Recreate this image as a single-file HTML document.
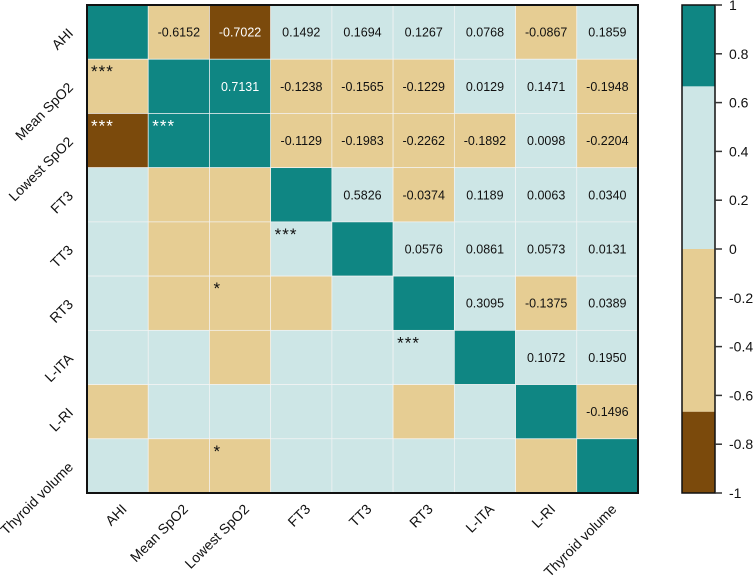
<!DOCTYPE html>
<html><head><meta charset="utf-8"><style>
html,body{margin:0;padding:0;background:#fff;}
svg{display:block;font-family:"Liberation Sans",Arial,sans-serif;}
</style></head><body>
<svg id="chart" width="753" height="578"></svg>
<script>
const labels=["AHI","Mean SpO2","Lowest SpO2","FT3","TT3","RT3","L-ITA","L-RI","Thyroid volume"];
const upperValues=[
[null,-0.6152,-0.7022,0.1492,0.1694,0.1267,0.0768,-0.0867,0.1859],
[null,null,0.7131,-0.1238,-0.1565,-0.1229,0.0129,0.1471,-0.1948],
[null,null,null,-0.1129,-0.1983,-0.2262,-0.1892,0.0098,-0.2204],
[null,null,null,null,0.5826,-0.0374,0.1189,0.0063,0.0340],
[null,null,null,null,null,0.0576,0.0861,0.0573,0.0131],
[null,null,null,null,null,null,0.3095,-0.1375,0.0389],
[null,null,null,null,null,null,null,0.1072,0.1950],
[null,null,null,null,null,null,null,null,-0.1496],
[null,null,null,null,null,null,null,null,null]];
const stars=[[1,0,"***"],[2,0,"***"],[2,1,"***"],[4,3,"***"],[5,2,"*"],[6,5,"***"],[8,2,"*"]];
const cbTicks=[1,0.8,0.6,0.4,0.2,0,-0.2,-0.4,-0.6,-0.8,-1];
const bands=[[-1,-2/3],[-2/3,0],[0,2/3],[2/3,1]];

const NS="http://www.w3.org/2000/svg";
const svg=document.getElementById("chart");
const L=87,T=5,R=638,B=493,n=labels.length;
const cw=(R-L)/n,ch=(B-T)/n;
const xPos=i=>L+i*cw, yPos=i=>T+i*ch;
function color(v){if(v>=2/3)return"#0f8683";if(v>=0)return"#cde6e6";if(v>=-2/3)return"#e6cd93";return"#7b4a0c";}
function dark(v){return v>=2/3||v< -2/3;}
function mk(tag,attrs,parent){const e=document.createElementNS(NS,tag);for(const k in attrs)e.setAttribute(k,attrs[k]);(parent||svg).appendChild(e);return e;}
function val(r,c){if(r===c)return 1;return r<c?upperValues[r][c]:upperValues[c][r];}
for(let r=0;r<n;r++)for(let c=0;c<n;c++){
 const v=val(r,c);
 const rect=mk("rect",{x:xPos(c),y:yPos(r),width:cw,height:ch,fill:color(v),stroke:"#f4f4f4","stroke-width":0.7});
 
 
 if(r<c){
  const t=mk("text",{x:xPos(c)+cw/2,y:yPos(r)+ch/2+4.5,"text-anchor":"middle","font-size":12.5,fill:dark(v)?"#fff":"#111"});
  t.textContent=v.toFixed(4);
  
  
 }
}
stars.forEach(s=>{
 const v=val(s[0],s[1]);
 const t=mk("text",{x:xPos(s[1])+4,y:yPos(s[0])+18,"font-size":17,"letter-spacing":"1",fill:dark(v)?"#fff":"#111"});
 t.textContent=s[2];
 
 
});
const border=mk("rect",{x:L,y:T,width:R-L,height:B-T,fill:"none",stroke:"#111","stroke-width":2});


labels.forEach((lb,i)=>{
 const cy=yPos(i)+ch/2, cx=xPos(i)+cw/2;
 const yx=74, yy=cy+2;
 const ty=mk("text",{x:yx,y:yy,"text-anchor":"end","font-size":14,fill:"#111",transform:`rotate(-45 ${yx} ${yy})`});
 ty.textContent=lb;
 
 
 const ax=cx+10, ay=510;
 const tx=mk("text",{x:ax,y:ay,"text-anchor":"end","font-size":14,fill:"#111",transform:`rotate(-45 ${ax} ${ay})`});
 tx.textContent=lb;
 
 
});
// colorbar
const CL=682,CR=715;
const cy=v=>T+(1-v)*(B-T)/2;
bands.forEach(b=>{
 const r=mk("rect",{x:CL,y:cy(b[1]),width:CR-CL,height:cy(b[0])-cy(b[1]),fill:color((b[0]+b[1])/2)});
 
 
});
const cbb=mk("rect",{x:CL,y:T,width:CR-CL,height:B-T,fill:"none",stroke:"#111","stroke-width":1.5});


cbTicks.forEach(v=>{
 const y=cy(v);
 const l=mk("line",{x1:CR,x2:CR+7,y1:y,y2:y,stroke:"#333","stroke-width":1.5});
 
 
 const t=mk("text",{x:CR+14,y:y+5,"font-size":14,fill:"#111"});
 t.textContent=String(v);
 
 
});
</script>
</body></html>
